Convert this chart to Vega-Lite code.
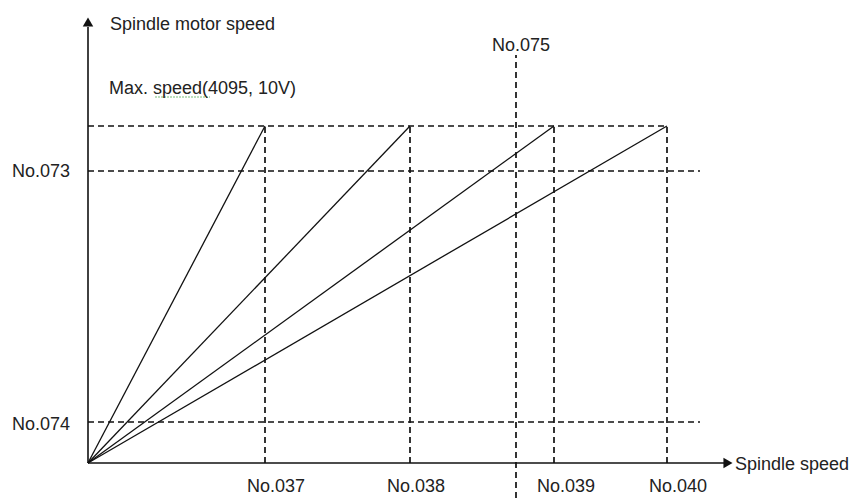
{
  "$schema": "https://vega.github.io/schema/vega-lite/v6.json",
  "width": 855,
  "height": 498,
  "padding": 0,
  "autosize": {"type": "none"},
  "background": "white",
  "config": {"view": {"stroke": null}},
  "datasets": {
    "solid": [
      {"x": 0, "y": 0, "x2": 177, "y2": 337},
      {"x": 0, "y": 0, "x2": 322, "y2": 337},
      {"x": 0, "y": 0, "x2": 466, "y2": 337},
      {"x": 0, "y": 0, "x2": 579, "y2": 337}
    ],
    "axes": [
      {"x": 0, "y": 0, "x2": 0, "y2": 436},
      {"x": 0, "y": 0, "x2": 636, "y2": 0}
    ],
    "arrows": [
      {"x": 0, "y": 441, "dir": "up"},
      {"x": 640, "y": 0, "dir": "right"}
    ],
    "dashed": [
      {"x": 0, "y": 337, "x2": 579, "y2": 337},
      {"x": 0, "y": 292, "x2": 612, "y2": 292},
      {"x": 0, "y": 41, "x2": 612, "y2": 41},
      {"x": 177, "y": 0, "x2": 177, "y2": 337},
      {"x": 322, "y": 0, "x2": 322, "y2": 337},
      {"x": 466, "y": 0, "x2": 466, "y2": 337},
      {"x": 579, "y": 0, "x2": 579, "y2": 337},
      {"x": 428, "y": -35, "x2": 428, "y2": 408}
    ],
    "squiggle": [
      {"x": 67, "y": 366, "x2": 122, "y2": 366}
    ],
    "labels": [
      {"x": 22, "y": 433, "text": "Spindle motor speed"},
      {"x": 21, "y": 369, "text": "Max. speed(4095, 10V)"},
      {"x": 404, "y": 412, "text": "No.075"},
      {"x": -76, "y": 286, "text": "No.073"},
      {"x": -76, "y": 33, "text": "No.074"},
      {"x": 159, "y": -29, "text": "No.037"},
      {"x": 299, "y": -29, "text": "No.038"},
      {"x": 449, "y": -29, "text": "No.039"},
      {"x": 561, "y": -29, "text": "No.040"},
      {"x": 647, "y": -7, "text": "Spindle speed"}
    ]
  },
  "encoding": {},
  "layer": [
    {
      "data": {"name": "dashed"},
      "mark": {"type": "rule", "color": "#111", "strokeWidth": 1.7, "strokeDash": [6, 4]},
      "encoding": {
        "x": {"field": "x", "type": "quantitative", "scale": {"domain": [-88, 767], "nice": false, "zero": false}, "axis": null},
        "y": {"field": "y", "type": "quantitative", "scale": {"domain": [-35, 463], "nice": false, "zero": false}, "axis": null},
        "x2": {"field": "x2"},
        "y2": {"field": "y2"}
      }
    },
    {
      "data": {"name": "squiggle"},
      "mark": {"type": "rule", "color": "#7bbf7b", "strokeWidth": 1.2, "strokeDash": [2, 1]},
      "encoding": {
        "x": {"field": "x", "type": "quantitative"},
        "y": {"field": "y", "type": "quantitative"},
        "x2": {"field": "x2"},
        "y2": {"field": "y2"}
      }
    },
    {
      "data": {"name": "solid"},
      "mark": {"type": "rule", "color": "#111", "strokeWidth": 1.3},
      "encoding": {
        "x": {"field": "x", "type": "quantitative"},
        "y": {"field": "y", "type": "quantitative"},
        "x2": {"field": "x2"},
        "y2": {"field": "y2"}
      }
    },
    {
      "data": {"name": "axes"},
      "mark": {"type": "rule", "color": "#111", "strokeWidth": 1.6},
      "encoding": {
        "x": {"field": "x", "type": "quantitative"},
        "y": {"field": "y", "type": "quantitative"},
        "x2": {"field": "x2"},
        "y2": {"field": "y2"}
      }
    },
    {
      "data": {"name": "arrows"},
      "mark": {"type": "point", "filled": true, "color": "#111", "opacity": 1, "size": 110},
      "encoding": {
        "x": {"field": "x", "type": "quantitative"},
        "y": {"field": "y", "type": "quantitative"},
        "shape": {"field": "dir", "type": "nominal", "scale": {"domain": ["up", "right"], "range": ["triangle-up", "triangle-right"]}, "legend": null}
      }
    },
    {
      "data": {"name": "labels"},
      "mark": {"type": "text", "align": "left", "baseline": "alphabetic", "font": "Liberation Sans", "fontSize": 18, "color": "#222"},
      "encoding": {
        "x": {"field": "x", "type": "quantitative"},
        "y": {"field": "y", "type": "quantitative"},
        "text": {"field": "text"}
      }
    }
  ]
}
